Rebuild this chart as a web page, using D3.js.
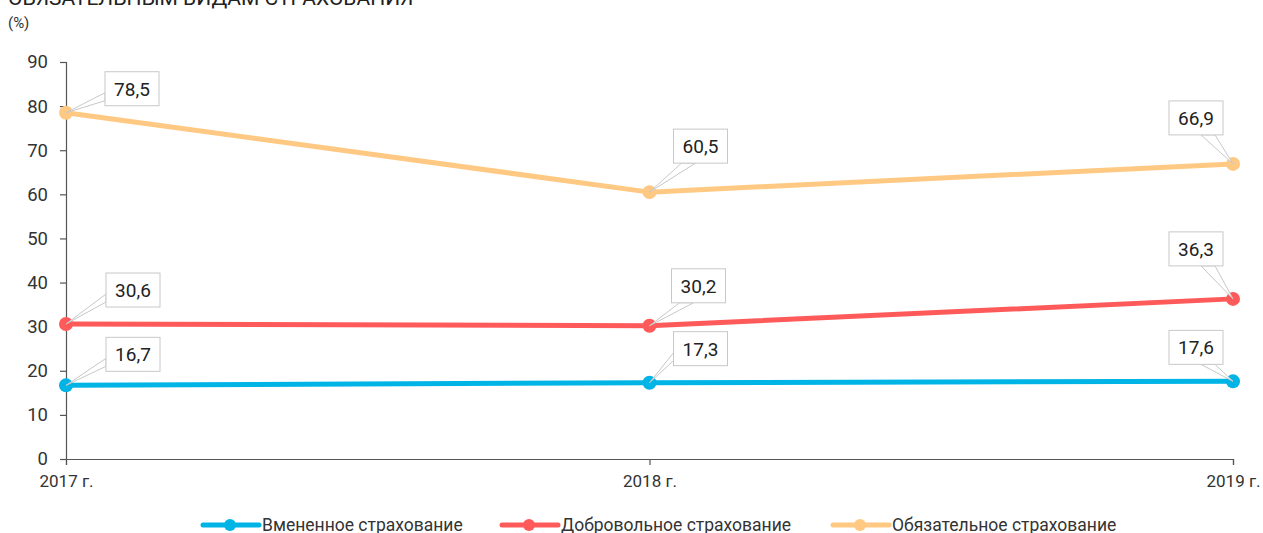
<!DOCTYPE html>
<html><head><meta charset="utf-8">
<script src="https://cdn.jsdelivr.net/npm/d3@7"></script>
<style>
body{margin:0;background:#fff;}
svg{display:block;font-family:Roboto,"Noto Sans",sans-serif;}
</style></head>
<body><svg id="c" width="1263" height="533"></svg>
<script>
const categories = ["2017 г.", "2018 г.", "2019 г."];
const seriesNames = ["Вмененное страхование", "Добровольное страхование", "Обязательное страхование"];
const imputed = [16.7, 17.3, 17.6];
const voluntary = [30.6, 30.2, 36.3];
const mandatory = [78.5, 60.5, 66.9];
const yTicks = [0, 10, 20, 30, 40, 50, 60, 70, 80, 90];
const colors = ["#00b4e6", "#ff5a5a", "#ffc983"];
// label box centre offsets (layout, px) relative to each point
const labelOffsets = [
  [[67,-31],[51,-34],[-37,-34]],
  [[67,-34],[49,-40],[-37,-50]],
  [[66,-24],[51,-46],[-37,-46]]
];
const series = [imputed, voluntary, mandatory];

const svg = d3.select("#c");
const x = d3.scalePoint().domain(categories).range([66, 1233]);
const y = d3.scaleLinear().domain([0, 90]).range([459, 62]);

svg.append("text").attr("x", 8).attr("y", 5).attr("font-size", 21).attr("fill", "#222")
  .text("ОБЯЗАТЕЛЬНЫМ ВИДАМ СТРАХОВАНИЯ");
svg.append("text").attr("x", 8).attr("y", 28).attr("font-size", 15).attr("fill", "#333").text("(%)");

const yAxis = svg.append("g").attr("transform", "translate(66,0)")
  .call(d3.axisLeft(y).tickValues(yTicks).tickSize(6).tickPadding(12));
const xAxis = svg.append("g").attr("transform", "translate(0,459)")
  .call(d3.axisBottom(x).tickSize(6).tickPadding(10));
[yAxis, xAxis].forEach(g => {
  g.selectAll("path,line").attr("stroke", "#555").attr("stroke-width", 1.2);
  g.selectAll("text").attr("fill", "#333").attr("font-family", "Roboto,sans-serif");
});
yAxis.selectAll("text").attr("font-size", 18.5);
xAxis.selectAll("text").attr("font-size", 17);
yAxis.select(".domain").attr("d", "M-6,459.5H0.5V62.5H-6");
xAxis.select(".domain").attr("d", "M66.5,6V0.5H1233.5V6");

const line = d3.line().x((d, i) => x(categories[i])).y(d => y(d));
series.forEach((vals, s) => {
  svg.append("path").datum(vals).attr("d", line).attr("fill", "none")
    .attr("stroke", colors[s]).attr("stroke-width", 5).attr("stroke-linejoin", "round");
});
series.forEach((vals, s) => {
  svg.selectAll(null).data(vals).enter().append("circle")
    .attr("cx", (d, i) => x(categories[i])).attr("cy", d => y(d)).attr("r", 7).attr("fill", colors[s]);
});

// callout labels
const fmt = v => d3.format(".1f")(v).replace(".", ",");
series.forEach((vals, s) => {
  vals.forEach((v, i) => {
    const px = x(categories[i]), py = y(v);
    const cx = px + labelOffsets[s][i][0], cy = py + labelOffsets[s][i][1];
    const g = svg.append("g");
    const txt = g.append("text").attr("x", cx).attr("y", cy + 7).attr("text-anchor", "middle")
      .attr("font-size", 19).attr("fill", "#222").text(fmt(v));
    const w = Math.round(txt.node().getComputedTextLength() + 18), h = 34;
    const l = cx - w / 2, t = cy - h / 2, r = l + w, b = t + h;
    let p1, p2;
    if (px < l && (l - px) > (py - b)) { p1 = [l, b - 13]; p2 = [l, b - 5]; }
    else if (px < cx) { p1 = [l + 8, b]; p2 = [l + 22, b]; }
    else { p1 = [r - 22, b]; p2 = [r - 8, b]; }
    g.insert("path", "text").attr("d", `M${p1[0]},${p1[1]}L${px},${py}L${p2[0]},${p2[1]}Z`)
      .attr("fill", "#fff").attr("stroke", "#c8c8c8").attr("stroke-width", 1);
    g.insert("rect", "text").attr("x", l).attr("y", t).attr("width", w).attr("height", h)
      .attr("fill", "#fff").attr("stroke", "#c8c8c8").attr("stroke-width", 1);
  });
});

// legend
const legendX = [203, 502, 833];
seriesNames.forEach((n, s) => {
  const g = svg.append("g").attr("transform", `translate(${legendX[s]},525)`);
  g.append("line").attr("x1", 0).attr("x2", 56).attr("stroke", colors[s]).attr("stroke-width", 5).attr("stroke-linecap", "round");
  g.append("circle").attr("cx", 27).attr("r", 6).attr("fill", colors[s]);
  g.append("text").attr("x", 59).attr("y", 6).attr("font-size", 17.5).attr("fill", "#333").text(n);
});
</script></body></html>
